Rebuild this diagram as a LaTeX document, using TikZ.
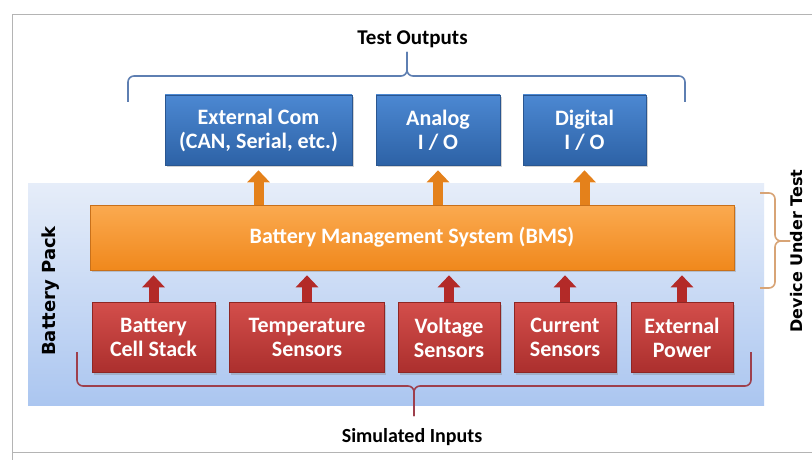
\documentclass[tikz,border=0pt]{standalone}
\usepackage{fontspec}
\setmainfont{Carlito}
\newfontfamily\dejab{DejaVu Sans}
\usetikzlibrary{shadows,arrows.meta}
\definecolor{bluetop}{HTML}{4C88D2}
\definecolor{bluebot}{HTML}{2D62A6}
\definecolor{blueedge}{HTML}{2A5690}
\definecolor{redtop}{HTML}{D34E4B}
\definecolor{redbot}{HTML}{AB2F2D}
\definecolor{rededge}{HTML}{8E2624}
\definecolor{orgtop}{HTML}{FBAA50}
\definecolor{orgbot}{HTML}{F0881C}
\definecolor{orgedge}{HTML}{C8701A}
\definecolor{bgtop}{HTML}{E6EDF9}
\definecolor{bgbot}{HTML}{ABC6F0}
\definecolor{bracebl}{HTML}{5E7FB2}
\definecolor{bracerd}{HTML}{9E3F4C}
\definecolor{bracetn}{HTML}{D8A476}
\definecolor{framegray}{HTML}{B4B4B4}
\tikzset{
  box/.style={minimum height=#1, inner sep=0pt, align=center, text=white,
    font=\bfseries\fontsize{22}{24}\selectfont,
    drop shadow={opacity=0.35, shadow xshift=1.5pt, shadow yshift=-2pt}},
  bluebox/.style={box=70pt, top color=bluetop, bottom color=bluebot, draw=blueedge, line width=0.6pt},
  redbox/.style={box=70pt, top color=redtop, bottom color=redbot, draw=rededge, line width=0.6pt},
  orgbox/.style={box=65pt, top color=orgtop, bottom color=orgbot, draw=orgedge, line width=0.6pt},
  oarr/.style={line width=10pt, draw=orgbot!95!black, -{Triangle[width=22pt,length=12pt]}},
  rarr/.style={line width=10pt, draw=redbot!90!red, -{Triangle[width=22pt,length=12pt]}},
  lbl/.style={font=\bfseries\fontsize{21}{24}\selectfont, text=black},
  rlbl/.style={font=\dejab\bfseries\fontsize{16}{18}\selectfont, text=black, rotate=90},
  brc/.style={line width=1.6pt, rounded corners=6pt}
}
\begin{document}
\begin{tikzpicture}[x=1pt,y=-1pt]
\useasboundingbox (0,0) rectangle (812,460);
\fill[white] (0,0) rectangle (812,460);
% outer frame
\draw[framegray, line width=0.8pt] (12,460) -- (12,14) -- (812,14);
\draw[framegray, line width=0.8pt] (12,452) -- (812,452);
% battery pack background
\shade[top color=bgtop, bottom color=bgbot] (28,183) rectangle (764,405);
% labels
\node[lbl] (tout) at (412.5,39) {Test Outputs};
\node[lbl, font=\bfseries\fontsize{20}{24}\selectfont] (sin) at (412,437) {Simulated Inputs};
\node[rlbl, font=\dejab\bfseries\fontsize{18}{22}\selectfont] (bp) at (51,291) {Battery Pack};
\node[rlbl] (dut) at (797,251) {Device Under Test};
% output boxes
\node[bluebox, minimum width=187pt] (ext) at (258.5,130) {External Com\\(CAN, Serial, etc.)};
\node[bluebox, minimum width=124pt] (ana) at (438,130) {Analog\\I / O};
\node[bluebox, minimum width=123pt] (dig) at (584.5,130) {Digital\\I / O};
% BMS
\node[orgbox, minimum width=644pt, font=\bfseries\fontsize{22}{24}\selectfont] (bms) at (412,237.5) {Battery Management System (BMS)};
% input boxes
\node[redbox, minimum width=123pt] (cell) at (153.5,337.5) {Battery\\Cell Stack};
\node[redbox, minimum width=155pt] (temp) at (307,337.5) {Temperature\\Sensors};
\node[redbox, minimum width=102pt] (volt) at (449,337.5) {Voltage\\Sensors};
\node[redbox, minimum width=102pt] (curr) at (565,337.5) {Current\\Sensors};
\node[redbox, minimum width=102pt] (pow) at (682,337.5) {External\\Power};
% arrows BMS -> outputs
\foreach \n in {ext,ana,dig}
  \draw[oarr] (bms.north -| \n.south) -- ([yshift=-5pt]\n.south);
% arrows inputs -> BMS
\foreach \n in {cell,temp,volt,curr,pow}
  \draw[rarr] (\n.north) -- ([yshift=-5pt]bms.south -| \n.north);
% top brace
\draw[bracebl, brc] (128,102) -- (128,76) -- (407,76) -- (407,52);
\draw[bracebl, brc] (685,102) -- (685,76) -- (407,76) -- (407,52);
% bottom brace
\draw[bracerd, brc] (77,352) -- (77,386) -- (414,386) -- (414,416);
\draw[bracerd, brc] (751,352) -- (751,386) -- (414,386) -- (414,416);
% right brace
\draw[bracetn, brc] (760,193) -- (775,193) -- (775,241) -- (790,241);
\draw[bracetn, brc] (760,288) -- (775,288) -- (775,241) -- (790,241);
\end{tikzpicture}
\end{document}
